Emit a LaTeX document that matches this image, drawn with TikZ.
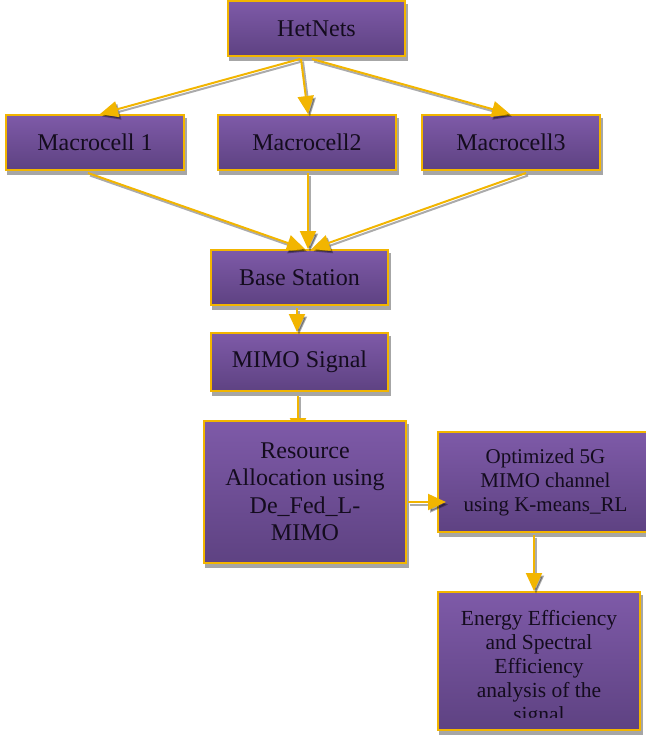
\documentclass[tikz,border=0pt]{standalone}
\usepackage{fontspec}
\setmainfont{Liberation Serif}
\usetikzlibrary{arrows.meta,calc}
\definecolor{gold}{RGB}{242,181,0}
\definecolor{shadowgray}{RGB}{166,166,166}
\definecolor{ptop}{RGB}{126,90,168}
\definecolor{pbot}{RGB}{94,66,130}
\definecolor{txt}{RGB}{20,12,30}
\pgfdeclarelayer{bg}
\pgfsetlayers{bg,main}
\tikzset{
  box/.style={draw=gold, line width=2pt, shading=axis, top color=ptop, bottom color=pbot,
    inner sep=0pt, align=center, text=txt, font=\fontsize{24}{27.5}\selectfont,
    preaction={fill=shadowgray, draw=shadowgray, transform canvas={shift={(1.5pt,-4pt)}}}},
  smallbox/.style={box, font=\fontsize{21}{24}\selectfont},
  conn/.style={draw=gold, line width=2pt, -{Triangle[width=16pt,length=18pt]},
    preaction={draw=black, draw opacity=0.33, fill opacity=0.33, line width=2pt, transform canvas={shift={(2pt,-2.5pt)}}, -{Triangle[width=16pt,length=18pt]}}}
}
\begin{document}
\begin{tikzpicture}[x=1pt,y=-1pt]
\useasboundingbox (0,0) rectangle (646,740);
% nodes
\node[box, minimum width=177pt, minimum height=55pt] (het) at (316.5,28.5) {HetNets};
\node[box, minimum width=178pt, minimum height=55pt] (m1) at (95,142.5) {Macrocell 1};
\node[box, minimum width=178pt, minimum height=55pt] (m2) at (307,142.5) {Macrocell2};
\node[box, minimum width=178pt, minimum height=55pt] (m3) at (511,142.5) {Macrocell3};
\node[box, minimum width=177pt, minimum height=55pt] (bs) at (299.5,277.5) {Base Station};
\node[box, minimum width=177pt, minimum height=58pt] (mimo) at (299.5,362) {MIMO Signal};
\node[box, minimum width=202pt, minimum height=142pt] (res) at (305,492) {Resource\\Allocation using\\De\_Fed\_L-\\MIMO};
\node[smallbox, minimum width=215pt, minimum height=100pt] (opt) at (545.5,482) {Optimized 5G\\MIMO channel\\using K-means\_RL};
\node[smallbox, minimum width=202pt, minimum height=138pt] (en) at (539,661) {};
\begin{scope}
  \clip (438,592) rectangle (640,717);
  \node[anchor=north, inner sep=0pt, align=center, font=\fontsize{21.5}{24}\selectfont, text=txt] (entext) at (539,610)
    {Energy Efficiency\\and Spectral\\Efficiency\\analysis of the\\signal};
\end{scope}
% connectors
\draw[conn] ([xshift=-16.5pt,yshift=-2pt]het.south) -- ([xshift=5pt]m1.north);
\draw[conn] ([xshift=-15.5pt,yshift=-2pt]het.south) -- ([xshift=1pt]m2.north);
\draw[conn] ([xshift=-4.5pt,yshift=-2pt]het.south) -- ([xshift=-1pt]m3.north);
\draw[conn] ([xshift=-7pt,yshift=-2pt]m1.south) -- ([xshift=5.5pt]bs.north);
\draw[conn] ([xshift=1pt,yshift=-2pt]m2.south) -- ([xshift=8.5pt]bs.north);
\draw[conn] ([xshift=15pt,yshift=-2pt]m3.south) -- ([xshift=12pt]bs.north);
\draw[conn] ([xshift=-2.5pt,yshift=-2pt]bs.south) -- ([xshift=-2.5pt]mimo.north);
\begin{pgfonlayer}{bg}
\draw[conn] ([xshift=-1.5pt,yshift=-2pt]mimo.south) -- ([xshift=-7pt,yshift=-16pt]res.north);
\end{pgfonlayer}
\draw[conn] ([xshift=1pt,yshift=-10pt]res.east) -- ([xshift=9pt,yshift=-20pt]opt.west);
\draw[conn] ([xshift=-11.5pt,yshift=-2pt]opt.south) -- ([xshift=-5pt]en.north);
\end{tikzpicture}
\end{document}
